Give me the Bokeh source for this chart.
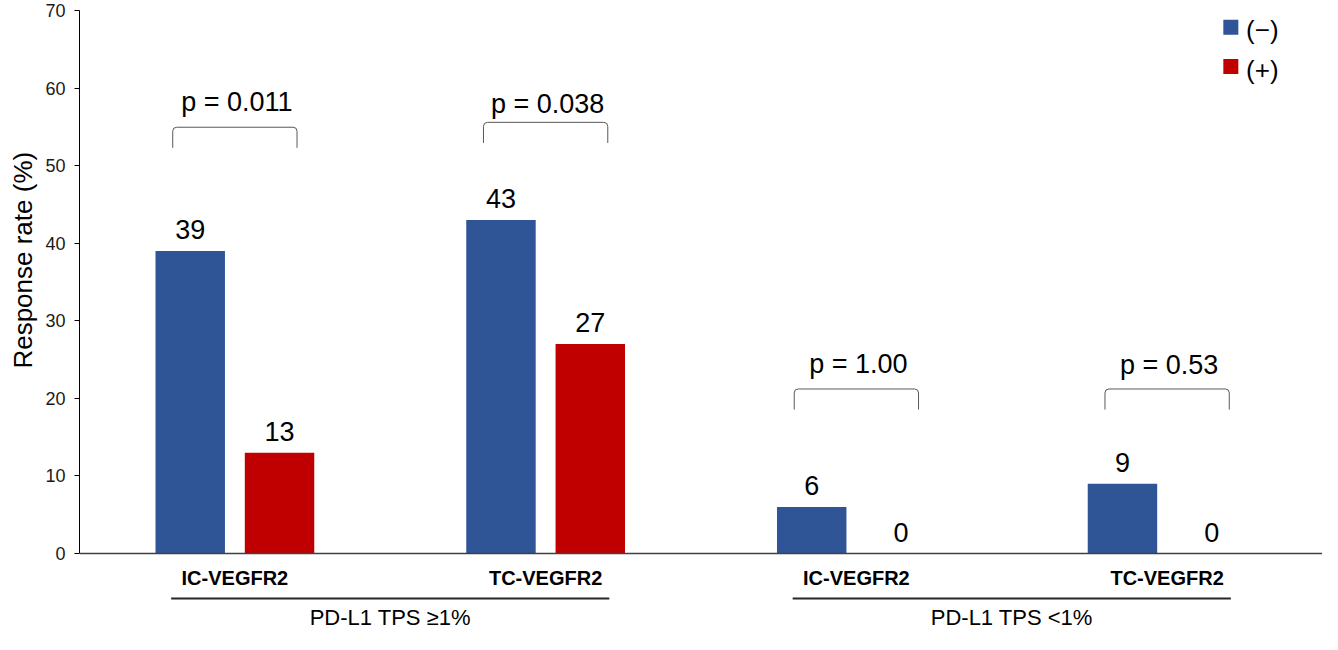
import math
from bokeh.plotting import figure
from bokeh.models import (ColumnDataSource, FactorRange, FixedTicker, Title,
                          LinearAxis, Range1d, Span)
from bokeh.transform import dodge
from bokeh.core.properties import value
from bokeh.embed import file_html
from bokeh.resources import INLINE

# ---------------- data ----------------
groups = ["PD-L1 TPS \u22651%", "PD-L1 TPS \u22651%", "PD-L1 TPS <1%", "PD-L1 TPS <1%"]
markers = ["IC-VEGFR2", "TC-VEGFR2", "IC-VEGFR2", "TC-VEGFR2"]
neg_rate = [39, 43, 6, 9]          # VEGFR2 (-)
pos_rate = [13, 27, 0, 0]          # VEGFR2 (+)
p_values = ["p = 0.011", "p = 0.038", "p = 1.00", "p = 0.53"]
series_labels = ["(\u2212)", "(+)"]
group_names = ["PD-L1 TPS \u22651%", "PD-L1 TPS <1%"]
y_ticks = [0, 10, 20, 30, 40, 50, 60, 70]
y_label = "Response rate (%)"

# ---------------- layout / style ----------------
BLUE = "#2F5597"
RED = "#C00000"
FONT = value("Liberation Sans")
W, H = 1322, 634
TOP_BORDER = 10
LEFT_BORDER = 78
YMAX = 70
ZERO_PX = 553                                   # pixel row of y = 0
PX_Y = (ZERO_PX - TOP_BORDER) / YMAX            # px per y unit
YMIN = YMAX - (H - TOP_BORDER) / PX_Y
PX_X = (W - LEFT_BORDER) / 4.0                  # px per factor
DODGE = 0.1437
BAR_W = 0.2235

factors = list(zip(groups, markers))
x_range = FactorRange(factors=factors, group_padding=0, factor_padding=0,
                      range_padding=0)

p = figure(width=W, height=H, x_range=x_range, y_range=Range1d(YMIN, YMAX),
           x_axis_location=None, y_axis_location=None,
           toolbar_location=None, output_backend="svg",
           min_border_left=LEFT_BORDER, min_border_right=0,
           min_border_top=TOP_BORDER, min_border_bottom=0)
p.outline_line_color = None
p.grid.visible = False
p.background_fill_color = "white"
p.border_fill_color = "white"

# y axis
yaxis = LinearAxis(ticker=FixedTicker(ticks=y_ticks), bounds=(0, YMAX))
yaxis.major_tick_in = 0
yaxis.major_tick_out = 5
yaxis.minor_tick_line_color = None
yaxis.axis_line_color = "black"
yaxis.axis_line_width = 1
yaxis.major_tick_line_color = "black"
yaxis.major_label_text_font = "Liberation Sans"
yaxis.major_label_text_font_size = "18px"
yaxis.major_label_text_color = "#1a1a1a"
yaxis.major_label_standoff = 9
p.add_layout(yaxis, "left")

# y axis title (side title, so it can be moved along the axis)
TITLE_CENTER_PX = ZERO_PX - 37.5 * PX_Y
ytitle = Title(text=y_label, align="left", offset=H - TITLE_CENTER_PX - 106,
               standoff=10, text_font="Liberation Sans", text_font_size="26px",
               text_font_style="normal", text_color="black")
p.add_layout(ytitle, "left")

# x axis line
p.add_layout(Span(location=0, dimension="width", line_color="#404040",
                  line_width=1.5))

src = ColumnDataSource(dict(
    sub=factors,
    neg=neg_rate,
    pos=pos_rate,
    neg_txt=[str(v) for v in neg_rate],
    pos_txt=[str(v) for v in pos_rate],
))

# bars
p.vbar(x=dodge("sub", -DODGE, range=x_range), top="neg", bottom=0, width=BAR_W,
       source=src, fill_color=BLUE, line_color=None)
p.vbar(x=dodge("sub", DODGE, range=x_range), top="pos", bottom=0, width=BAR_W,
       source=src, fill_color=RED, line_color=None)

# value labels
for col, txt, off in (("neg", "neg_txt", -DODGE), ("pos", "pos_txt", DODGE)):
    p.text(x=dodge("sub", off, range=x_range), y=col, text=txt, source=src,
           y_offset=-21.5, text_align="center", text_baseline="middle",
           text_font=FONT, text_font_size="27px", text_color="black")

# significance brackets (annotation layout)
bracket_top = [54.95, 55.58, 21.21, 21.21]
ptext_mid = [58.24, 57.91, 24.44, 24.3]
HW = 0.2
LEG = 20.6 / PX_Y
R = 4.0
RX = R / PX_X
RY = R / PX_Y
bsrc = ColumnDataSource(dict(
    sub=factors,
    top=bracket_top,
    top_r=[t - RY for t in bracket_top],
    bot=[t - LEG for t in bracket_top],
    ty=ptext_mid,
    ptxt=p_values,
))
BC = "#595959"
p.segment(x0=dodge("sub", -HW + RX, range=x_range), x1=dodge("sub", HW - RX, range=x_range),
          y0="top", y1="top", source=bsrc, line_color=BC, line_width=1)
for sgn in (-1, 1):
    p.segment(x0=dodge("sub", sgn * HW, range=x_range), x1=dodge("sub", sgn * HW, range=x_range),
              y0="top_r", y1="bot", source=bsrc, line_color=BC, line_width=1)
p.arc(x=dodge("sub", -HW + RX, range=x_range), y="top_r", radius=R, radius_units="screen",
      start_angle=math.pi / 2, end_angle=math.pi, source=bsrc, line_color=BC, line_width=1)
p.arc(x=dodge("sub", HW - RX, range=x_range), y="top_r", radius=R, radius_units="screen",
      start_angle=0, end_angle=math.pi / 2, source=bsrc, line_color=BC, line_width=1)
p.text(x=dodge("sub", 2 / PX_X, range=x_range), y="ty", text="ptxt", source=bsrc,
       text_align="center", text_baseline="middle", text_font=FONT,
       text_font_size="27px", text_color="black")

# category labels under the axis
csrc = ColumnDataSource(dict(sub=factors, zero=[0] * 4, lab=markers))
p.text(x="sub", y="zero", text="lab", source=csrc, y_offset=24,
       text_align="center", text_baseline="middle", text_font=FONT,
       text_font_style="bold", text_font_size="20px", text_color="black")

# group underline + group labels
gsrc = ColumnDataSource(dict(grp=group_names, uy=[-45 / PX_Y] * 2, zero=[0, 0],
                             lab=group_names))
p.segment(x0=dodge("grp", -0.705, range=x_range), x1=dodge("grp", 0.705, range=x_range),
          y0="uy", y1="uy", source=gsrc, line_color="#262626", line_width=2)
p.text(x="grp", y="zero", text="lab", source=gsrc, y_offset=64,
       text_align="center", text_baseline="middle", text_font=FONT,
       text_font_size="22px", text_color="black")

# legend (manual, top right)
lsrc = ColumnDataSource(dict(x=[3.705] * 2,
                             y=[67.84, 62.77],
                             ty=[67.46, 62.39],
                             tx=[3.754] * 2,
                             c=[BLUE, RED], lab=series_labels))
p.scatter(x="x", y="y", marker="square", size=15, fill_color="c", line_color=None,
          source=lsrc)
p.text(x="tx", y="ty", text="lab", source=lsrc, text_align="left",
       text_baseline="middle", text_font=FONT, text_font_size="26px",
       text_color="black")

open("out.html", "w").write(file_html(p, INLINE))
